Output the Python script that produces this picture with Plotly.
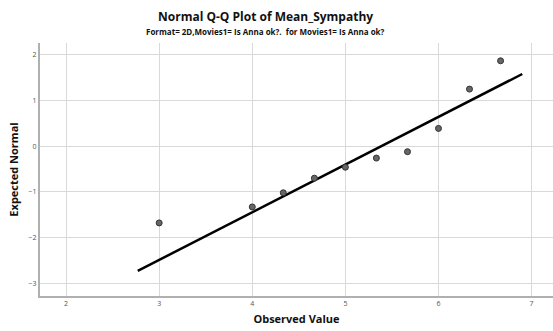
import plotly.graph_objects as go

observed = [3.0, 4.0, 4.333, 4.667, 5.0, 5.333, 5.667, 6.0, 6.333, 6.667]
expected = [-1.68, -1.33, -1.02, -0.70, -0.46, -0.26, -0.12, 0.39, 1.25, 1.87]
line_x = [2.77, 6.90]
line_mean = 5.385
line_sd = 0.958
x_ticks = [2, 3, 4, 5, 6, 7]
y_ticks = [-3, -2, -1, 0, 1, 2]

line_y = [(v - line_mean) / line_sd for v in line_x]

fig = go.Figure()
fig.add_trace(go.Scatter(x=line_x, y=line_y, mode="lines",
                         line=dict(color="black", width=2.5), hoverinfo="skip"))
fig.add_trace(go.Scatter(x=observed, y=expected, mode="markers",
                         marker=dict(size=6, color="#666666", line=dict(color="#333333", width=1))))

fig.update_layout(
    width=553, height=331,
    margin=dict(l=40, r=0, t=43, b=35),
    paper_bgcolor="white", plot_bgcolor="white",
    showlegend=False,
    font=dict(family="Open Sans", color="#222222"),
)
fig.add_annotation(text="<b>Normal Q-Q Plot of Mean_Sympathy</b>", xref="paper", yref="paper",
                   x=(265 - 40) / 513, y=1 + (43 - 17) / 253, showarrow=False,
                   font=dict(size=12, color="#111111"), xanchor="center", yanchor="middle")
fig.add_annotation(text="<b>Format= 2D,Movies1= Is Anna ok?.  for Movies1= Is Anna ok?</b>", xref="paper", yref="paper",
                   x=(265 - 40) / 513, y=1 + (43 - 31) / 253, showarrow=False,
                   font=dict(size=8, color="#111111"), xanchor="center", yanchor="middle")

fig.update_xaxes(range=[1.72, 7.23], tickvals=x_ticks, showgrid=True, gridcolor="#d9d9d9", gridwidth=1,
                 showline=True, linecolor="#b0b0b0", linewidth=2, zeroline=False, ticks="",
                 tickfont=dict(size=7, color="#555555"),
                 title=dict(text="<b>Observed Value</b>", font=dict(size=11, color="#111111"), standoff=8))
fig.update_yaxes(range=[-3.28, 2.26], tickvals=y_ticks, showgrid=True, gridcolor="#d9d9d9", gridwidth=1,
                 showline=True, linecolor="#b0b0b0", linewidth=2, zeroline=False, ticks="",
                 tickfont=dict(size=7, color="#555555"),
                 title=dict(text="<b>Expected Normal</b>", font=dict(size=11, color="#111111"), standoff=8))

fig.write_html("out.html")
